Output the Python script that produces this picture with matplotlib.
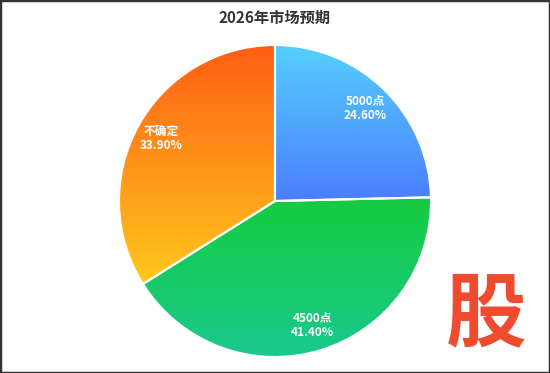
import numpy as np
import matplotlib
matplotlib.use("Agg")
import matplotlib.pyplot as plt
from matplotlib.patches import Wedge, Rectangle
from matplotlib.colors import LinearSegmentedColormap

plt.rcParams['font.family'] = ['Noto Sans CJK SC', 'DejaVu Sans']

title = "2026年市场预期"
categories = ["5000点", "4500点", "不确定"]
values = [24.60, 41.40, 33.90]
top_colors = ["#56cffd", "#16cc40", "#ff5e16"]
bottom_colors = ["#4a7efd", "#19c98d", "#ffc81c"]

W, H = 550, 373
fig = plt.figure(figsize=(W / 100, H / 100), dpi=100)
ax = fig.add_axes([0, 0, 1, 1])
ax.set_xlim(0, W)
ax.set_ylim(0, H)
ax.set_aspect('equal')
ax.axis('off')

cx, cy, r = 275, 172, 156
total = sum(values)
start = 90.0
for cat, v, ct, cb in zip(categories, values, top_colors, bottom_colors):
    span = 360.0 * v / total
    t1, t2 = start - span, start
    w = Wedge((cx, cy), r, t1, t2, facecolor='none', edgecolor='none')
    ax.add_patch(w)
    angs = np.linspace(np.radians(t1), np.radians(t2), 200)
    ys = np.concatenate([[cy], cy + r * np.sin(angs)])
    xs = np.concatenate([[cx], cx + r * np.cos(angs)])
    ymin, ymax = ys.min(), ys.max()
    cmap = LinearSegmentedColormap.from_list(cat, [cb, ct])
    grad = np.linspace(0, 1, 256).reshape(-1, 1)
    im = ax.imshow(grad, cmap=cmap, origin='lower', aspect='auto',
                   extent=(xs.min() - 2, xs.max() + 2, ymin, ymax), zorder=1,
                   interpolation='bilinear')
    im.set_clip_path(w)
    edge = Wedge((cx, cy), r, t1, t2, facecolor='none', edgecolor='white',
                 linewidth=1.5, zorder=2)
    ax.add_patch(edge)
    mid = np.radians((t1 + t2) / 2)
    lr = 0.83 * r
    ax.text(cx + lr * np.cos(mid), cy + lr * np.sin(mid),
            f"{cat}\n{v:.2f}%", ha='center', va='center', color='white',
            fontsize=8.5, fontweight='bold', linespacing=1.2, zorder=3)
    start = t1

ax.set_xlim(0, W)
ax.set_ylim(0, H)

fig.text(0.5, 1 - 18 / H, title, ha='center', va='center', fontsize=11,
         fontweight='bold', color='#333333')

fig.text(486 / W, 1 - 316 / H, "股", ha='center', va='center', fontsize=58,
         fontweight='bold', color='#f04a2f')

fig.add_artist(Rectangle((0, 0), 1, 1, transform=fig.transFigure,
                         facecolor='none', edgecolor='#333333', linewidth=2.5))

fig.savefig("out.png", dpi=100)
